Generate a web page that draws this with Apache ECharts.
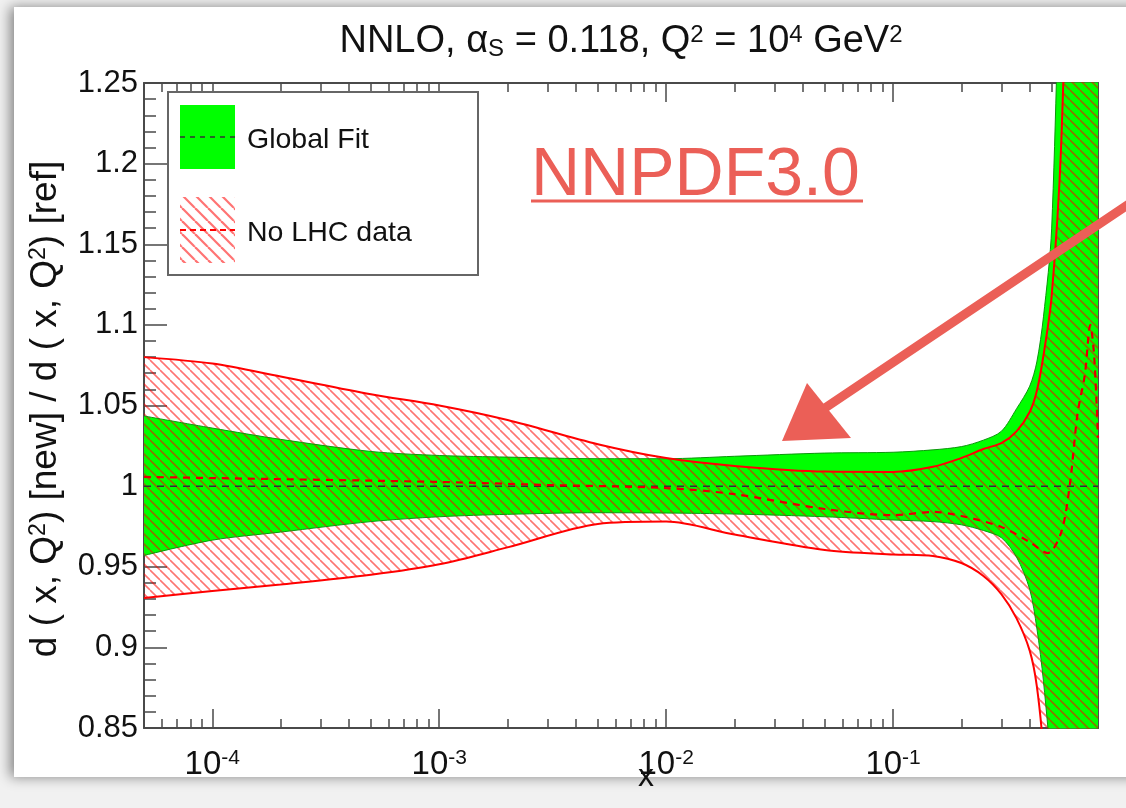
<!DOCTYPE html>
<html>
<head>
<meta charset="utf-8">
<title>d(x,Q2) ratio NNLO</title>
<script src="https://cdn.jsdelivr.net/npm/echarts@6/dist/echarts.min.js"></script>
<style>
html, body { margin: 0; padding: 0; }
body { width: 1126px; height: 808px; background: #f1f1f1; overflow: hidden; position: relative; }
#panel { position: absolute; left: 14px; top: 7px; width: 1140px; height: 770px; background: #fff; box-shadow: -4px 0 12px rgba(0,0,0,0.45); }
#chart { position: absolute; left: 0; top: 0; width: 1126px; height: 808px; }
</style>
</head>
<body>
<div id="panel"></div>
<div id="chart"></div>
<script>
// shared x grid for the two bands
const xGrid = [5e-5, 1e-4, 2e-4, 5e-4, 1e-3, 2e-3, 5e-3, 1e-2, 2e-2, 5e-2, 0.1, 0.15, 0.2, 0.25, 0.3, 0.35, 0.4, 0.43, 0.46, 0.5, 0.55, 0.6, 0.7, 0.8];

// Global Fit band (green)
const globalUpper = [1.0435, 1.036, 1.029, 1.0215, 1.019, 1.018, 1.017, 1.017, 1.0185, 1.0205, 1.021, 1.0225, 1.0245, 1.0285, 1.034, 1.048, 1.062, 1.077, 1.105, 1.16, 1.37, 1.6, 2.0, 2.4];
const globalLower = [0.957, 0.9665, 0.9715, 0.978, 0.981, 0.9825, 0.9835, 0.9833, 0.9827, 0.981, 0.979, 0.978, 0.976, 0.9725, 0.968, 0.956, 0.936, 0.912, 0.879, 0.82, 0.7, 0.58, 0.35, 0.1];

// No LHC data band (red hatch)
const noLhcUpper = [1.080, 1.076, 1.068, 1.057, 1.050, 1.041, 1.026, 1.0174, 1.0125, 1.009, 1.0088, 1.012, 1.0174, 1.023, 1.0267, 1.034, 1.046, 1.059, 1.081, 1.118, 1.21, 1.4, 1.75, 2.1];
const noLhcLower = [0.9306, 0.935, 0.939, 0.945, 0.9515, 0.962, 0.9765, 0.978, 0.970, 0.9604, 0.9576, 0.9567, 0.9523, 0.9443, 0.933, 0.918, 0.898, 0.876, 0.835, 0.75, 0.6, 0.45, 0.25, 0.05];

// central values
const globalCentralX = [5e-5, 0.8];
const globalCentral = [1.0, 1.0];
const noLhcCentralX = [5e-5, 1e-4, 1e-3, 3e-3, 1e-2, 2e-2, 5e-2, 0.1, 0.15, 0.2, 0.3, 0.4, 0.48, 0.55, 0.6, 0.65, 0.7, 0.74, 0.77, 0.8];
const noLhcCentral = [1.0057, 1.005, 1.0026, 1.0007, 0.9988, 0.995, 0.9858, 0.982, 0.984, 0.9815, 0.9747, 0.9653, 0.9585, 0.971, 1.0, 1.045, 1.069, 1.1, 1.08, 1.03];

// axis ticks
const majorX = [1e-4, 1e-3, 1e-2, 1e-1];
const minorX = [];
[1e-5, 1e-4, 1e-3, 1e-2, 1e-1].forEach(function (d) {
  for (let m = 2; m <= 9; m++) {
    const v = m * d;
    if (v > 5.01e-5 && v < 0.79) minorX.push(v);
  }
});

const FONT = '"Liberation Sans", Arial, Helvetica, sans-serif';
const AX = '#4a4a4a';
const RED = '#eb5f57';

// rows are [y, x] so that stacking happens on the y value (encode maps them back)
function rows(xs, ys) { return xs.map(function (x, i) { return [ys[i], x]; }); }
function widthRows(xs, hi, lo) { return xs.map(function (x, i) { return [hi[i] - lo[i], x]; }); }
const enc = { x: 1, y: 0 };

function hatch(step, lw, color) {
  const c = document.createElement('canvas');
  c.width = step; c.height = step;
  const g = c.getContext('2d');
  g.strokeStyle = color;
  g.lineWidth = lw;
  [-step, 0, step].forEach(function (k) {
    g.beginPath(); g.moveTo(k, 0); g.lineTo(k + step, step); g.stroke();
  });
  return c;
}
const hatchImg = hatch(10, 1.6, 'rgba(255,0,0,0.55)');
const legendHatch = hatch(13, 2.2, 'rgba(255,40,40,0.65)');

const smooth = 0.3;

const xBase = {
  type: 'log', logBase: 10, min: 5e-5, max: 0.8,
  splitLine: { show: false }, minorTick: { show: false }, minorSplitLine: { show: false }
};
const tickStyle = { color: AX, width: 1.5 };

const chart = echarts.init(document.getElementById('chart'));
chart.setOption({
  animation: false,
  backgroundColor: 'transparent',
  grid: { left: 144, top: 83, right: 28, bottom: 80, outerBoundsMode: 'none' },
  xAxis: [
    Object.assign({}, xBase, {
      position: 'bottom',
      axisLine: { show: true, lineStyle: { color: AX, width: 2 } },
      axisTick: { show: true, inside: true, length: 19, customValues: majorX, lineStyle: tickStyle },
      axisLabel: {
        show: true, customValues: majorX, margin: 20,
        formatter: function (v) { return '{b|10}{s|' + Math.round(Math.log10(v)) + '}'; },
        rich: {
          b: { fontSize: 33, color: '#111', fontFamily: FONT, lineHeight: 34 },
          s: { fontSize: 21, color: '#111', fontFamily: FONT, verticalAlign: 'top' }
        }
      }
    }),
    Object.assign({}, xBase, {
      position: 'bottom',
      axisLine: { show: false },
      axisTick: { show: true, inside: true, length: 9, customValues: minorX, lineStyle: tickStyle },
      axisLabel: { show: false }
    }),
    Object.assign({}, xBase, {
      position: 'top',
      axisLine: { show: true, lineStyle: { color: AX, width: 2 } },
      axisTick: { show: true, inside: true, length: 19, customValues: majorX, lineStyle: tickStyle },
      axisLabel: { show: false }
    }),
    Object.assign({}, xBase, {
      position: 'top',
      axisLine: { show: false },
      axisTick: { show: true, inside: true, length: 9, customValues: minorX, lineStyle: tickStyle },
      axisLabel: { show: false }
    })
  ],
  yAxis: [
    {
      type: 'value', min: 0.85, max: 1.25, interval: 0.05, position: 'left',
      axisLine: { show: true, lineStyle: { color: AX, width: 2 } },
      axisTick: { show: true, inside: true, length: 23, lineStyle: tickStyle },
      minorTick: { show: true, splitNumber: 5, length: 12, lineStyle: tickStyle },
      splitLine: { show: false },
      axisLabel: {
        fontSize: 31, color: '#111', fontFamily: FONT, margin: 6,
        formatter: function (v) { return String(parseFloat(v.toFixed(2))); }
      }
    },
    {
      type: 'value', min: 0.85, max: 1.25, interval: 0.05, position: 'right',
      axisLine: { show: true, lineStyle: { color: AX, width: 2 } },
      axisTick: { show: false }, axisLabel: { show: false }, splitLine: { show: false }
    }
  ],
  series: [
    {
      name: 'Global Fit low', type: 'line', stack: 'global', symbol: 'none', smooth: smooth, silent: true,
      data: rows(xGrid, globalLower), encode: enc,
      lineStyle: { color: '#0d960d', width: 1 }
    },
    {
      name: 'Global Fit', type: 'line', stack: 'global', symbol: 'none', smooth: smooth, silent: true,
      data: widthRows(xGrid, globalUpper, globalLower), encode: enc,
      lineStyle: { color: '#0d960d', width: 1 },
      areaStyle: { color: '#00ff00', opacity: 1 }
    },
    {
      name: 'No LHC low', type: 'line', stack: 'nolhc', symbol: 'none', smooth: smooth, silent: true,
      data: rows(xGrid, noLhcLower), encode: enc,
      lineStyle: { color: '#ff0000', width: 2 }
    },
    {
      name: 'No LHC data', type: 'line', stack: 'nolhc', symbol: 'none', smooth: smooth, silent: true,
      data: widthRows(xGrid, noLhcUpper, noLhcLower), encode: enc,
      lineStyle: { color: '#ff0000', width: 2 },
      areaStyle: { color: { image: hatchImg, repeat: 'repeat' }, opacity: 1 }
    },
    {
      name: 'Global Fit central', type: 'line', symbol: 'none', silent: true,
      data: rows(globalCentralX, globalCentral), encode: enc,
      lineStyle: { color: '#333', width: 1.5, type: [7, 6] }
    },
    {
      name: 'No LHC central', type: 'line', symbol: 'none', smooth: smooth, silent: true,
      data: rows(noLhcCentralX, noLhcCentral), encode: enc,
      lineStyle: { color: '#e00000', width: 2.2, type: [7, 6] }
    }
  ],
  graphic: [
    // title
    {
      type: 'text', x: 621, y: 42, z: 10,
      style: {
        text: 'NNLO, {g|α}{sub|S} = 0.118, Q{sup|2} = 10{sup|4} GeV{sup|2}',
        fontSize: 38, fontFamily: FONT, fill: '#111', align: 'center', verticalAlign: 'middle',
        rich: {
          g: { fontSize: 38, fontFamily: FONT, fill: '#111' },
          sub: { fontSize: 24, fontFamily: FONT, fill: '#111', verticalAlign: 'bottom' },
          sup: { fontSize: 24, fontFamily: FONT, fill: '#111', verticalAlign: 'top' }
        }
      }
    },
    // y axis title
    {
      type: 'text', x: 46, y: 409, rotation: Math.PI / 2, z: 10,
      style: {
        text: 'd ( x, Q{sup|2}) [new] / d ( x, Q{sup|2}) [ref]',
        fontSize: 37, fontFamily: FONT, fill: '#111', align: 'center', verticalAlign: 'middle',
        rich: { sup: { fontSize: 23, fontFamily: FONT, fill: '#111', verticalAlign: 'top' } }
      }
    },
    // x axis title
    {
      type: 'text', x: 646, y: 777, z: 10,
      style: { text: 'x', fontSize: 32, fontFamily: FONT, fill: '#111', align: 'center', verticalAlign: 'middle' }
    },
    // legend
    {
      type: 'rect', z: 10, shape: { x: 168, y: 92, width: 310, height: 183 },
      style: { fill: '#fff', stroke: '#666', lineWidth: 2 }
    },
    {
      type: 'rect', z: 11, shape: { x: 180, y: 105, width: 55, height: 64 },
      style: { fill: '#00ff00' }
    },
    {
      type: 'line', z: 12, shape: { x1: 180, y1: 137, x2: 235, y2: 137 },
      style: { stroke: '#333', lineWidth: 1.5, lineDash: [5, 5] }
    },
    {
      type: 'rect', z: 11, shape: { x: 180, y: 197, width: 55, height: 66 },
      style: { fill: { image: legendHatch, repeat: 'repeat' } }
    },
    {
      type: 'line', z: 12, shape: { x1: 180, y1: 230, x2: 235, y2: 230 },
      style: { stroke: '#ff0000', lineWidth: 2, lineDash: [6, 4] }
    },
    {
      type: 'text', x: 247, y: 140, z: 12,
      style: { text: 'Global Fit', fontSize: 28.5, fontFamily: FONT, fill: '#111', verticalAlign: 'middle' }
    },
    {
      type: 'text', x: 247, y: 233, z: 12,
      style: { text: 'No LHC data', fontSize: 28.5, fontFamily: FONT, fill: '#111', verticalAlign: 'middle' }
    },
    // NNPDF3.0 annotation
    {
      type: 'text', x: 531, y: 176, z: 20,
      style: { text: 'NNPDF3.0', fontSize: 68, fontFamily: FONT, fill: RED, verticalAlign: 'middle' }
    },
    {
      type: 'line', z: 20, shape: { x1: 531, y1: 201, x2: 863, y2: 201 },
      style: { stroke: RED, lineWidth: 3 }
    },
    // hand drawn arrow
    {
      type: 'line', z: 20, shape: { x1: 1132, y1: 202, x2: 822, y2: 410 },
      style: { stroke: RED, lineWidth: 9, lineCap: 'round' }
    },
    {
      type: 'polygon', z: 20, shape: { points: [[807, 383], [782, 441], [851, 438]] },
      style: { fill: RED }
    }
  ]
});
</script>
</body>
</html>
